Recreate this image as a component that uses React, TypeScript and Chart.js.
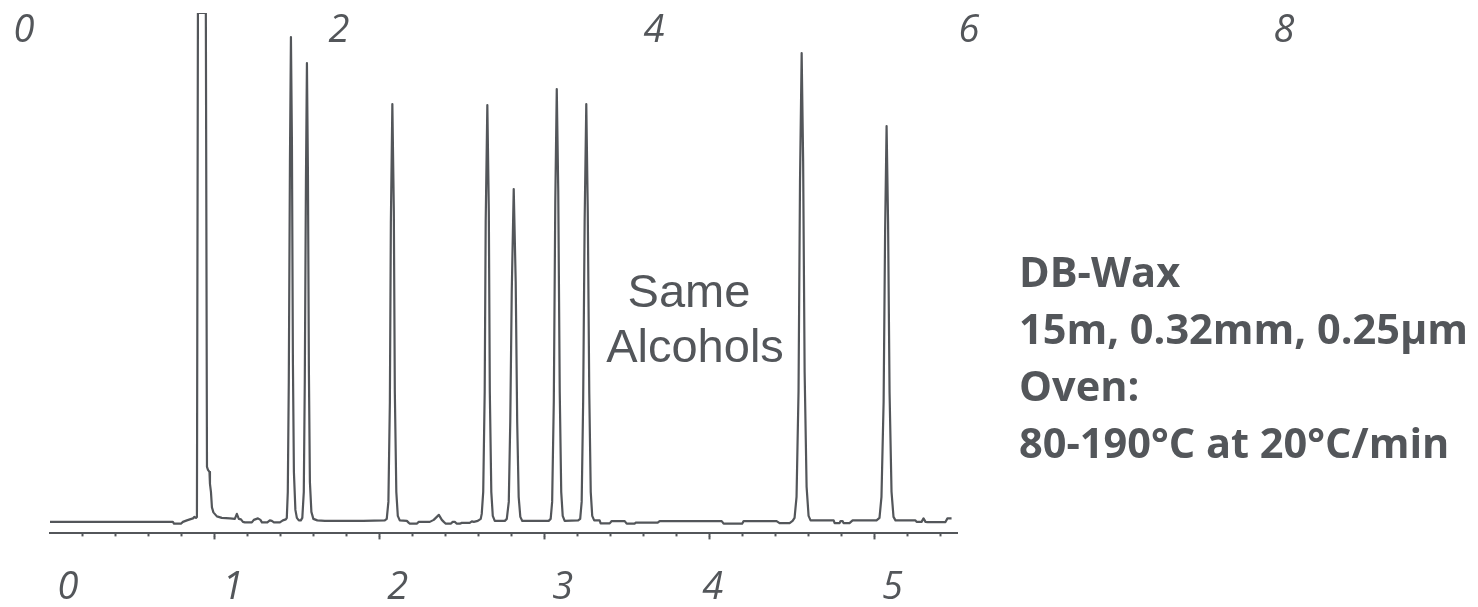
import React, { useEffect, useRef } from 'react';
import { Chart, registerables } from 'chart.js';

Chart.register(...registerables);

// ---- Data: retention time (min) vs detector signal (arbitrary units) ----
const leadBaseline: [number, number][] = [
  [0.0, 0], [0.745, 0], [0.752, -1.8], [0.794, -1.8], [0.806, 0], [0.83, 1.5],
  [0.848, 2.5], [0.867, 3.5], [0.876, 5], [0.885, 4], [0.891, 5],
];

// solvent peak runs off scale, then tails
const solventPeak: [number, number][] = [
  [0.897, 508.5], [0.945, 508.5], [0.952, 55], [0.958, 52], [0.967, 50], [0.97, 38],
  [0.976, 30], [0.982, 14.5], [0.991, 9.5], [1.012, 5.5], [1.042, 4], [1.091, 3.5],
];

const earlyNoise: [number, number][] = [
  [1.121, 3], [1.133, 8], [1.145, 3], [1.158, 2.5], [1.17, 0], [1.182, -0.5],
  [1.224, -0.5], [1.236, 2], [1.261, 3.5], [1.276, 2], [1.285, -0.5], [1.318, -0.5],
  [1.333, 1.5], [1.345, 1], [1.358, -0.5], [1.394, -0.5], [1.412, 1.5], [1.43, 2.5],
];

const peaks2and3: [number, number][] = [
  [1.436, 4], [1.442, 30], [1.448, 140], [1.455, 360], [1.461, 484.5], [1.467, 380],
  [1.473, 160], [1.479, 50], [1.488, 12], [1.497, 4], [1.509, 1.5], [1.521, 1.5],
  [1.53, 4], [1.539, 30], [1.545, 140], [1.552, 340], [1.558, 458.5], [1.564, 350],
  [1.57, 150], [1.576, 40], [1.585, 10], [1.597, 3], [1.621, 1.5], [1.667, 1],
  [1.9, 1], [2.03, 1.5],
];

const peak4: [number, number][] = [
  [2.042, 3], [2.052, 20], [2.061, 120], [2.067, 300], [2.076, 417.5], [2.085, 310],
  [2.091, 130], [2.1, 30], [2.109, 6], [2.121, 1.5], [2.164, 1], [2.176, -1],
  [2.182, -1.8], [2.224, -1.8], [2.236, 0], [2.303, 0], [2.327, 2], [2.358, 7],
  [2.376, 2], [2.388, 0], [2.4, -1.8], [2.43, -1.8], [2.442, 0], [2.455, 0],
  [2.467, -1.8], [2.485, -1.8], [2.497, -1], [2.545, -1], [2.558, 0.5], [2.57, 0],
  [2.594, 1], [2.612, 3],
];

const peaks5to8: [number, number][] = [
  [2.618, 8], [2.627, 30], [2.636, 130], [2.642, 300], [2.652, 416.5], [2.661, 310],
  [2.667, 130], [2.676, 30], [2.685, 6], [2.697, 1], [2.758, 1],
  [2.77, 3], [2.782, 20], [2.791, 100], [2.8, 230], [2.812, 332.5], [2.824, 240],
  [2.833, 100], [2.842, 25], [2.852, 5], [2.864, 1], [3.024, 1],
  [3.036, 3], [3.045, 20], [3.055, 120], [3.064, 320], [3.073, 432.5], [3.082, 330],
  [3.091, 130], [3.1, 30], [3.109, 6], [3.121, 1], [3.203, 1.5],
  [3.215, 3], [3.224, 20], [3.233, 120], [3.242, 300], [3.252, 417.5], [3.261, 310],
  [3.27, 130], [3.279, 30], [3.288, 6], [3.3, 1.5], [3.333, 1.5],
];

const midBaseline: [number, number][] = [
  [3.339, -1.5], [3.394, -1.5], [3.406, 0.8], [3.485, 0.8], [3.497, -1.8], [3.545, -1.8],
  [3.552, -0.8], [3.685, -0.8], [3.697, 0.8], [4.073, 0.8], [4.085, -1.8], [4.197, -1.8],
  [4.206, 0.8], [4.406, 0.8], [4.424, -1.2], [4.485, -1.2], [4.503, 1],
];

const peak9: [number, number][] = [
  [4.515, 4], [4.527, 25], [4.539, 130], [4.548, 340], [4.558, 468.5], [4.567, 360],
  [4.576, 150], [4.588, 35], [4.6, 6], [4.612, 1.5], [4.752, 1.5], [4.758, -1.2],
  [4.788, -1.2], [4.794, 0.8], [4.806, 0.8], [4.812, -1.2], [4.848, -1.2], [4.867, 1.5],
  [5.012, 1.5],
];

const peak10: [number, number][] = [
  [5.03, 4], [5.042, 25], [5.055, 120], [5.064, 290], [5.073, 395.5], [5.082, 300],
  [5.091, 130], [5.103, 30], [5.115, 5], [5.127, 1.5], [5.248, 1.5], [5.255, 0],
  [5.285, 0], [5.297, 3.5], [5.309, 0], [5.321, -0.2], [5.43, -0.2], [5.442, 3.5],
  [5.467, 3.5],
];

const trace = [
  ...leadBaseline, ...solventPeak, ...earlyNoise, ...peaks2and3, ...peak4,
  ...peaks5to8, ...midBaseline, ...peak9, ...peak10,
];

// ---- Axes ----
const timeRange = [0, 5.5];
const signalRange = [-11.5, 508.5];
const minorStep = 0.2;
const majorStep = 1;
const bottomTickLabels = ['0', '1', '2', '3', '4', '5'];
const topTickValues = [0, 2, 4, 6, 8];
const topAxisRange = [0.165, 5.924];

// ---- Annotations ----
const sampleNote = ['Same', 'Alcohols'];
const columnInfo = ['DB-Wax', '15m, 0.32mm, 0.25µm', 'Oven:', '80-190°C at 20°C/min'];

const GRAY = '#53565a';
const NONE = 'rgba(0,0,0,0)';

const tickColor = (c: any) => (c.tick && c.tick.value === 0 ? NONE : GRAY);

const annotationPlugin = {
  id: 'chromAnnotations',
  afterDraw(chart: any) {
    const ctx = chart.ctx as CanvasRenderingContext2D;
    const top = chart.scales.xTop;
    ctx.save();
    ctx.fillStyle = GRAY;
    ctx.textBaseline = 'alphabetic';
    ctx.textAlign = 'center';
    ctx.font = 'italic 38px "Open Sans"';
    topTickValues.forEach((v) => ctx.fillText(String(v), top.getPixelForValue(v), 42));

    ctx.font = '47px "Liberation Sans"';
    ctx.fillText(sampleNote[0], 689, 307);
    ctx.fillText(sampleNote[1], 695, 362);

    ctx.textAlign = 'left';
    ctx.font = 'bold 41.5px "Open Sans"';
    columnInfo.forEach((line, i) => ctx.fillText(line, 1019, 287 + i * 57));
    ctx.restore();
  },
};

export default function App() {
  const ref = useRef<HTMLCanvasElement | null>(null);

  useEffect(() => {
    if (!ref.current) return;
    const chart = new Chart(ref.current, {
      type: 'line',
      data: {
        datasets: [
          {
            data: trace.map(([x, y]) => ({ x, y })),
            borderColor: GRAY,
            borderWidth: 2.2,
            pointRadius: 0,
            tension: 0,
            fill: false,
            borderJoinStyle: 'round',
          },
        ],
      },
      options: {
        animation: false,
        responsive: true,
        maintainAspectRatio: false,
        layout: { padding: { left: 50, right: 521, top: 13, bottom: -30 } },
        plugins: { legend: { display: false }, tooltip: { enabled: false } },
        scales: {
          x: {
            type: 'linear',
            position: 'bottom',
            weight: 0,
            min: timeRange[0],
            max: timeRange[1],
            ticks: { display: false, stepSize: minorStep, includeBounds: false },
            grid: {
              drawOnChartArea: false,
              drawTicks: true,
              tickLength: 3,
              tickWidth: 2,
              tickColor,
            },
            border: { display: true, color: GRAY, width: 2 },
          },
          x2: {
            type: 'linear',
            position: 'bottom',
            weight: 1,
            min: timeRange[0],
            max: timeRange[1],
            ticks: {
              stepSize: majorStep,
              includeBounds: false,
              padding: 26,
              labelOffset: 18,
              color: GRAY,
              font: { family: '"Open Sans"', style: 'italic', size: 38 },
              callback: (_v: any, i: number) =>
                bottomTickLabels[i] === '4' ? bottomTickLabels[i] + '   ' : bottomTickLabels[i],
            },
            grid: {
              drawOnChartArea: false,
              drawTicks: true,
              tickLength: 3,
              tickWidth: 2,
              tickColor,
            },
            border: { display: false },
          },
          xTop: {
            type: 'linear',
            position: 'top',
            display: false,
            min: topAxisRange[0],
            max: topAxisRange[1],
          },
          y: {
            display: false,
            min: signalRange[0],
            max: signalRange[1],
          },
        },
      },
      plugins: [annotationPlugin],
    } as any);
    return () => chart.destroy();
  }, []);

  return (
    <div
      style={{
        position: 'absolute',
        left: 0,
        top: 0,
        width: 1478,
        height: 607,
        background: '#ffffff',
      }}
    >
      <canvas ref={ref} />
    </div>
  );
}
